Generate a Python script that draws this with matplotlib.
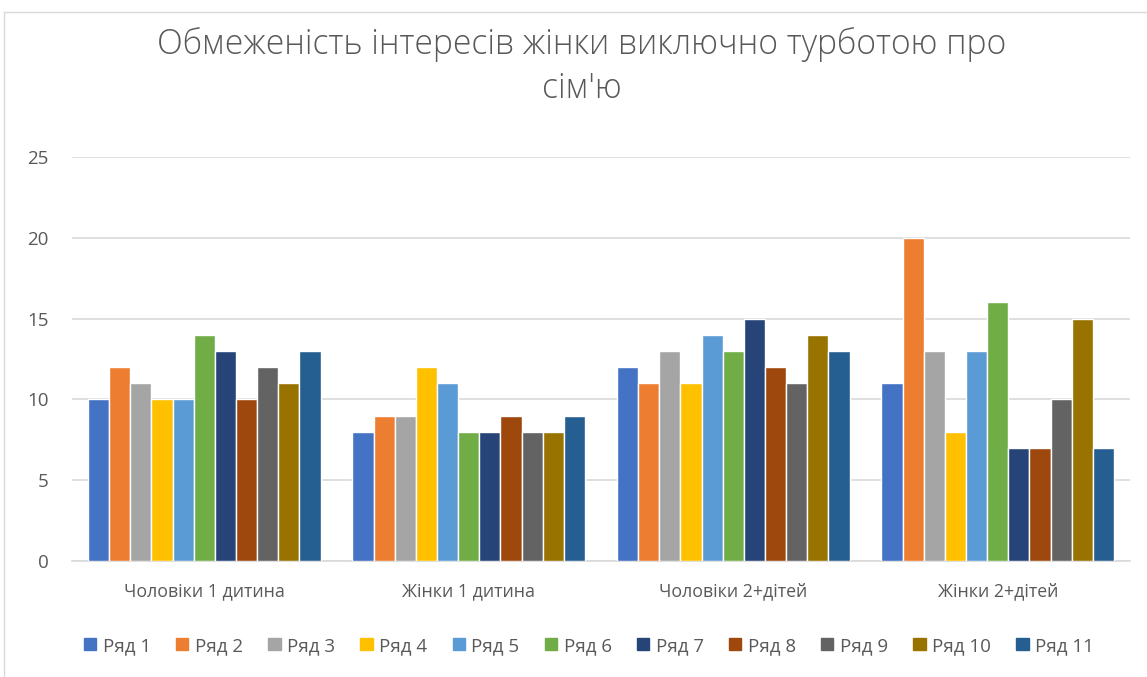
import matplotlib
matplotlib.use("Agg")
import matplotlib.pyplot as plt
import numpy as np
from matplotlib.lines import Line2D

categories = ["Чоловіки 1 дитина", "Жінки 1 дитина", "Чоловіки 2+дітей", "Жінки 2+дітей"]
series_names = ["Ряд 1", "Ряд 2", "Ряд 3", "Ряд 4", "Ряд 5", "Ряд 6",
                "Ряд 7", "Ряд 8", "Ряд 9", "Ряд 10", "Ряд 11"]
ryad1 = [10, 8, 12, 11]
ryad2 = [12, 9, 11, 20]
ryad3 = [11, 9, 13, 13]
ryad4 = [10, 12, 11, 8]
ryad5 = [10, 11, 14, 13]
ryad6 = [14, 8, 13, 16]
ryad7 = [13, 8, 15, 7]
ryad8 = [10, 9, 12, 7]
ryad9 = [12, 8, 11, 10]
ryad10 = [11, 8, 14, 15]
ryad11 = [13, 9, 13, 7]
series_values = [ryad1, ryad2, ryad3, ryad4, ryad5, ryad6, ryad7, ryad8, ryad9, ryad10, ryad11]
colors = ["#4472C4", "#ED7D31", "#A5A5A5", "#FFC000", "#5B9BD5", "#70AD47",
          "#264478", "#9E480E", "#636363", "#997300", "#255E91"]
title_line1 = "Обмеженість інтересів жінки виключно турботою про"
title_line2 = "сім'ю"

plt.rcParams['font.family'] = ['Open Sans', 'DejaVu Sans']

W, H = 1147, 677
fig = plt.figure(figsize=(W / 100, H / 100), dpi=100)
ax = fig.add_axes([72 / W, 1 - 561 / H, (1130 - 72) / W, (561 - 157) / H])

x = np.arange(len(categories))
slot = 0.08
n = len(series_values)
for i, (vals, c, name) in enumerate(zip(series_values, colors, series_names)):
    off = (i - (n - 1) / 2) * slot
    ax.bar(x + off, vals, width=slot, color=c, edgecolor="white", linewidth=1.0,
           label=name, zorder=3)

ax.set_xlim(-0.5, len(categories) - 0.5)
ax.set_ylim(0, 25)
ax.set_yticks(range(0, 26, 5))
ax.yaxis.grid(True, color="#D9D9D9", linewidth=1.2, zorder=0)
ax.set_axisbelow(True)
for s in ["top", "right", "left"]:
    ax.spines[s].set_visible(False)
ax.spines["bottom"].set_color("#D9D9D9")
ax.spines["bottom"].set_linewidth(1.2)
ax.set_xticks(x)
ax.set_xticklabels(categories)
ax.tick_params(axis="both", length=0, colors="#595959")
ax.tick_params(axis="x", pad=15, labelsize=12.8)
ax.tick_params(axis="y", pad=17, labelsize=13.5)

fig.text(582 / W, 1 - 45 / H, title_line1,
         ha="center", va="center", fontsize=24.2, color="#595959", fontweight="light")
fig.text(582 / W, 1 - 89 / H, title_line2,
         ha="center", va="center", fontsize=24.2, color="#595959", fontweight="light")

handles = [plt.Rectangle((0, 0), 1, 1, color=c) for c in colors]
fig.legend(handles, series_names, loc="center", bbox_to_anchor=(589 / W, 1 - 646 / H),
           ncol=n, frameon=False, fontsize=13.5, labelcolor="#595959",
           handlelength=0.65, handleheight=0.6, handletextpad=0.35, columnspacing=1.35)

# chart area border
fig.add_artist(Line2D([4 / W, 1.0], [1 - 12 / H, 1 - 12 / H], color="#D9D9D9", linewidth=1.0))
fig.add_artist(Line2D([4 / W, 4 / W], [0, 1 - 12 / H], color="#D9D9D9", linewidth=1.0))

fig.savefig("out.png", dpi=100)
